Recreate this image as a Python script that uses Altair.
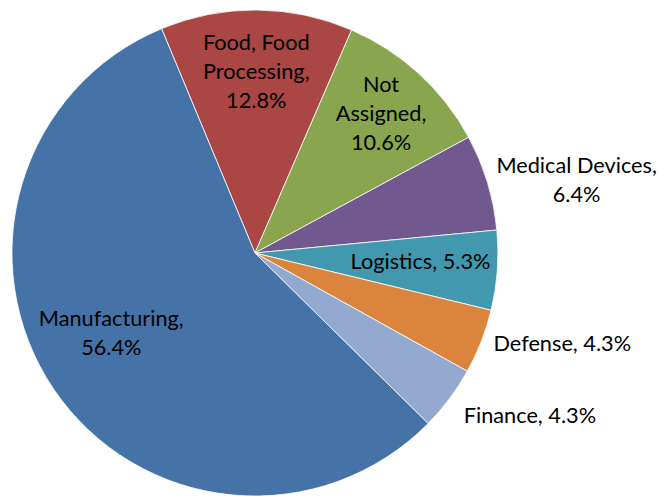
import math
import altair as alt
import pandas as pd

# Data (clockwise order starting at the Food slice)
categories = ["Food, Food Processing", "Not Assigned", "Medical Devices", "Logistics",
              "Defense", "Finance", "Manufacturing"]
shares = [12.8, 10.6, 6.4, 5.3, 4.3, 4.3, 56.4]
labels = ["Food, Food\nProcessing,\n12.8%", "Not\nAssigned,\n10.6%", "Medical Devices,\n6.4%",
          "Logistics, 5.3%", "Defense, 4.3%", "Finance, 4.3%", "Manufacturing,\n56.4%"]
colors = ["#AA4643", "#89A54E", "#71588F", "#4198AF", "#DB843D", "#93A9CF", "#4572A7"]

df = pd.DataFrame({"cat": categories, "value": shares, "label": labels,
                   "order": list(range(len(categories)))})

start = math.radians(-22.6)
theta_scale = alt.Scale(range=[start, start + 2 * math.pi])
color_scale = alt.Scale(domain=categories, range=colors)

FONT = "Lato"

arcs = alt.Chart(df).mark_arc(outerRadius=246, stroke="#ffffff", strokeWidth=0.8).encode(
    theta=alt.Theta("value:Q", stack=True, scale=theta_scale),
    color=alt.Color("cat:N", scale=color_scale, legend=None),
    order=alt.Order("order:Q"),
)


def label_layer(cat, radius, dx=0, dy=0):
    return (
        alt.Chart(df)
        .transform_window(cum="sum(value)", sort=[alt.SortField("order")], frame=[None, 0])
        .transform_calculate(mid="datum.cum - datum.value / 2")
        .transform_filter(alt.datum.cat == cat)
        .mark_text(radius=radius, dx=dx, dy=dy, font=FONT, fontSize=22, lineHeight=29.5,
                   lineBreak="\n", align="center", baseline="middle", color="#000000")
        .encode(theta=alt.Theta("mid:Q"), text="label:N")
    )


layers = [
    arcs,
    label_layer("Food, Food Processing", 183, 0, -30),
    label_layer("Not Assigned", 189, 0, -31),
    label_layer("Medical Devices", 331, 9, 8),
    label_layer("Logistics", 163, 5, -2),
    label_layer("Defense", 319, 14, -24),
    label_layer("Finance", 319, 23, -26),
    label_layer("Manufacturing", 167, -7, -27),
]

chart = alt.layer(*layers).properties(
    width=500,
    height=490,
    autosize=alt.AutoSizeParams(type="none"),
    padding={"left": 0, "top": 0, "right": 157, "bottom": 0},
).configure_view(stroke=None)

chart.save("out.html", embed_options={"renderer": "svg", "actions": False})
